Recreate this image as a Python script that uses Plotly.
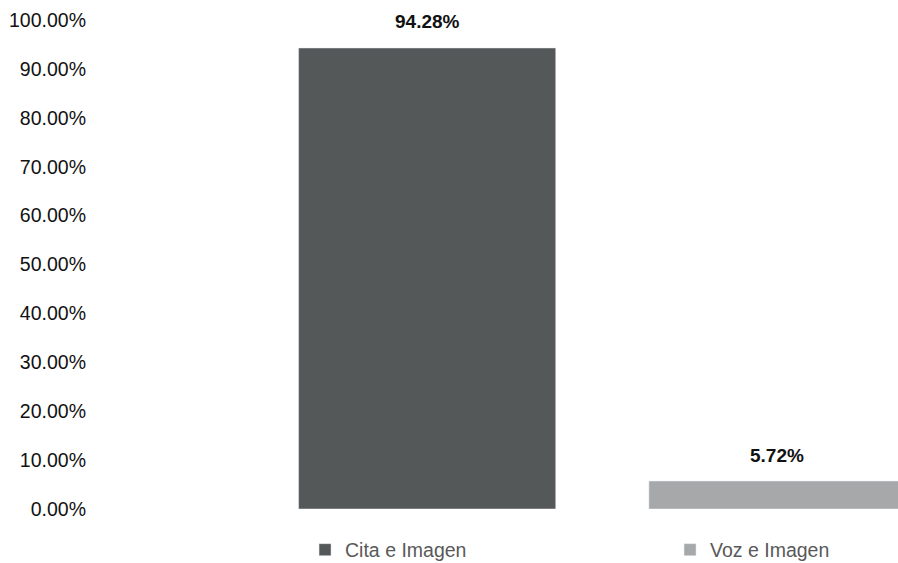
import plotly.graph_objects as go

categories = ["Cita e Imagen", "Voz e Imagen"]
values = [94.28, 5.72]
colors = ["#555859", "#a6a8a9"]
tick_vals = [0, 10, 20, 30, 40, 50, 60, 70, 80, 90, 100]
tick_text = [f"{v:.2f}%" for v in tick_vals]

FONT = "Liberation Sans Narrow, Arial Narrow, Liberation Sans, Arial, sans-serif"
legend_names = ["legend", "legend2"]
legend_x = [0.0821, 0.6471]

fig = go.Figure()
for cat, val, col, lg in zip(categories, values, colors, legend_names):
    fig.add_trace(go.Bar(
        x=[cat], y=[val], name=cat, marker_color=col, width=0.734,
        hoverinfo="skip", legend=lg,
    ))
    fig.add_annotation(
        x=cat, y=val, text=f"<b>{val:.2f}%</b>", showarrow=False,
        yshift=26, font=dict(family=FONT, size=19, color="#111111"),
    )

legend_common = dict(
    orientation="h", xanchor="left", y=-0.0838, yanchor="middle",
    font=dict(family=FONT, size=19.5, color="#595959"),
    itemclick=False, itemdoubleclick=False, bgcolor="rgba(0,0,0,0)",
)

fig.update_layout(
    width=898, height=563,
    margin=dict(l=252, r=0, t=20, b=54, autoexpand=False),
    plot_bgcolor="white", paper_bgcolor="white",
    barmode="overlay",
    font=dict(family=FONT, size=19, color="#111111"),
    showlegend=True,
    legend=dict(x=legend_x[0], **legend_common),
    legend2=dict(x=legend_x[1], **legend_common),
    xaxis=dict(
        range=[-0.5, 1.344], showticklabels=False, showgrid=False,
        zeroline=False, showline=False, fixedrange=True,
    ),
    yaxis=dict(
        range=[0, 100], tickvals=tick_vals, ticktext=tick_text,
        showgrid=False, zeroline=False, showline=False,
        ticklabelstandoff=165, fixedrange=True,
        tickfont=dict(family=FONT, size=19.5, color="#111111"),
    ),
)

fig.write_html(
    "out.html",
    config={"displayModeBar": False},
    post_script="document.body.style.margin='0';document.body.style.overflow='hidden';",
)
